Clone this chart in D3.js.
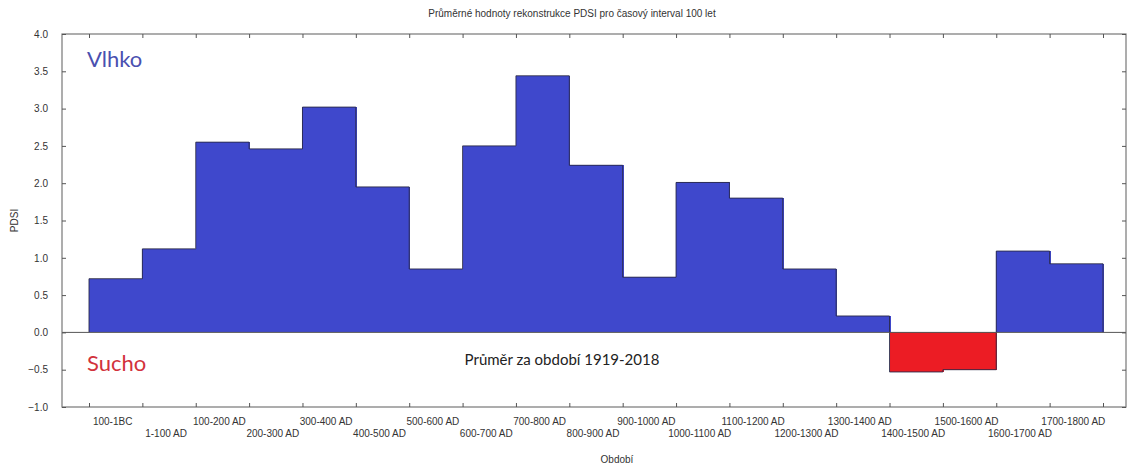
<!DOCTYPE html>
<html lang="cs">
<head>
<meta charset="UTF-8">
<title>PDSI</title>
<script src="https://d3js.org/d3.v7.min.js"></script>
<style>
  body { margin: 0; background: #fff; font-family: Arial, "Liberation Sans", sans-serif; }
  svg text { fill: #333; }
</style>
</head>
<body>
<svg id="chart"></svg>
<script>
const periods = ["100-1BC", "1-100 AD", "100-200 AD", "200-300 AD", "300-400 AD", "400-500 AD",
  "500-600 AD", "600-700 AD", "700-800 AD", "800-900 AD", "900-1000 AD", "1000-1100 AD",
  "1100-1200 AD", "1200-1300 AD", "1300-1400 AD", "1400-1500 AD", "1500-1600 AD",
  "1600-1700 AD", "1700-1800 AD"];
const pdsi = [0.72, 1.12, 2.55, 2.46, 3.02, 1.95, 0.85, 2.50, 3.44, 2.24, 0.74, 2.01,
  1.80, 0.85, 0.22, -0.53, -0.50, 1.09, 0.92];
const yTicks = [-1.0, -0.5, 0.0, 0.5, 1.0, 1.5, 2.0, 2.5, 3.0, 3.5, 4.0];

const width = 1127, height = 468;
const plot = { left: 62, right: 1126, top: 34, bottom: 407 };
const svg = d3.select("#chart").attr("width", width).attr("height", height);

const x = d3.scaleLinear().domain([0, periods.length]).range([89, 1103]);
const y = d3.scaleLinear().domain([-1, 4]).range([plot.bottom, plot.top]);

// bars (no inner borders, outline drawn as one step path)
svg.selectAll("rect.bar").data(pdsi).join("rect")
  .attr("class", "bar")
  .attr("x", (d, i) => x(i))
  .attr("width", x(1) - x(0) + 1)
  .attr("y", d => y(Math.max(0, d)))
  .attr("height", d => Math.abs(y(d) - y(0)))
  .attr("fill", d => d < 0 ? "#ec1c24" : "#3f48cc")
  .attr("shape-rendering", "crispEdges");

const outline = [[0, 0]];
pdsi.forEach((v, i) => { outline.push([i, v]); outline.push([i + 1, v]); });
outline.push([pdsi.length, 0]);
svg.append("path")
  .attr("d", d3.line().x(d => x(d[0])).y(d => y(d[1]))(outline))
  .attr("fill", "none")
  .attr("stroke", "#2a2a4a")
  .attr("stroke-width", 0.9);

// zero line
svg.append("line")
  .attr("x1", plot.left).attr("x2", plot.right)
  .attr("y1", y(0)).attr("y2", y(0))
  .attr("stroke", "#555").attr("stroke-width", 1);

// frame
svg.append("rect")
  .attr("x", plot.left).attr("y", plot.top)
  .attr("width", plot.right - plot.left).attr("height", plot.bottom - plot.top)
  .attr("fill", "none").attr("stroke", "#777").attr("stroke-width", 1.2);

// y axis (ticks inward)
const yAxis = svg.append("g").attr("transform", `translate(${plot.left},0)`)
  .call(d3.axisLeft(y).tickValues(yTicks).tickFormat(d3.format(".1f")).tickSizeInner(-4).tickSizeOuter(0).tickPadding(14));
yAxis.select(".domain").remove();
yAxis.selectAll("line").attr("stroke", "#555");
yAxis.selectAll("text").attr("font-size", 10).attr("font-family", "Arial, sans-serif").attr("fill", "#333");

const yAxisR = svg.append("g").attr("transform", `translate(${plot.right},0)`)
  .call(d3.axisRight(y).tickValues(yTicks).tickFormat("").tickSizeInner(-4).tickSizeOuter(0));
yAxisR.select(".domain").remove();
yAxisR.selectAll("line").attr("stroke", "#555");

// x axis ticks at category edges, inward on top and bottom
const edges = d3.range(periods.length + 1);
const xb = svg.append("g").attr("transform", `translate(0,${plot.bottom})`)
  .call(d3.axisBottom(x).tickValues(edges).tickFormat("").tickSizeInner(-4).tickSizeOuter(0));
xb.select(".domain").remove();
xb.selectAll("line").attr("stroke", "#555");
const xt = svg.append("g").attr("transform", `translate(0,${plot.top})`)
  .call(d3.axisTop(x).tickValues(edges).tickFormat("").tickSizeInner(-4).tickSizeOuter(0));
xt.select(".domain").remove();
xt.selectAll("line").attr("stroke", "#555");

// category labels, alternating rows
svg.append("g").selectAll("text").data(periods).join("text")
  .attr("x", (d, i) => x(i + 0.5) - 3)
  .attr("y", (d, i) => i % 2 === 0 ? 425 : 437)
  .attr("text-anchor", "middle")
  .attr("font-size", 10)
  .text(d => d);

// titles
svg.append("text")
  .attr("x", 572).attr("y", 17)
  .attr("text-anchor", "middle").attr("font-size", 10)
  .text("Průměrné hodnoty rekonstrukce PDSI pro časový interval 100 let");

svg.append("text")
  .attr("x", 617).attr("y", 463)
  .attr("text-anchor", "middle").attr("font-size", 10)
  .text("Období");

svg.append("text")
  .attr("transform", `translate(18,${(plot.top + plot.bottom) / 2}) rotate(-90)`)
  .attr("text-anchor", "middle").attr("font-size", 10)
  .text("PDSI");

// annotations
svg.append("text")
  .attr("x", 87).attr("y", 67)
  .attr("font-family", "Lato, 'Open Sans', sans-serif").attr("font-size", 22)
  .style("fill", "#4a50b0")
  .text("Vlhko");

svg.append("text")
  .attr("x", 87).attr("y", 371)
  .attr("font-family", "Lato, 'Open Sans', sans-serif").attr("font-size", 22)
  .style("fill", "#d2323c")
  .text("Sucho");

svg.append("text")
  .attr("x", 562).attr("y", 365)
  .attr("text-anchor", "middle")
  .attr("font-family", "Lato, 'Open Sans', sans-serif").attr("font-size", 15)
  .style("fill", "#222")
  .text("Průměr za období 1919-2018");
</script>
</body>
</html>
